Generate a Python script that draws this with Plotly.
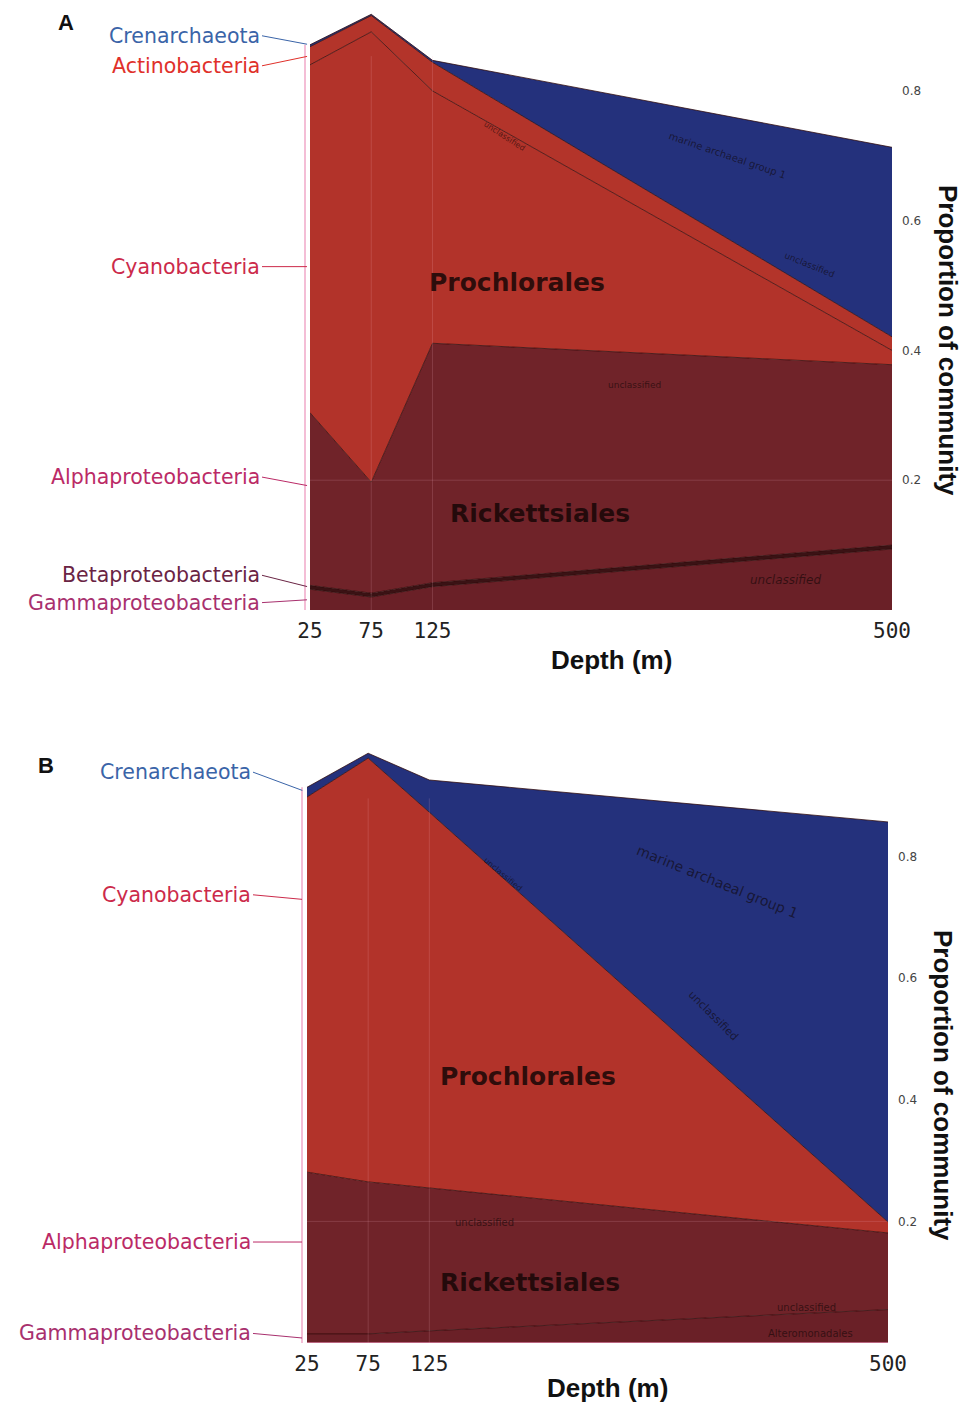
import plotly.graph_objects as go

# ---------------- data ----------------
depths = [25, 75, 125, 500]
depth_tick_text = ["25", "75", "125", "500"]
prop_ticks = [0.2, 0.4, 0.6, 0.8]
prop_tick_text = ["0.2", "0.4", "0.6", "0.8"]

# Panel A (stack order bottom -> top)
taxa_a = ["Gammaproteobacteria", "Betaproteobacteria", "Alphaproteobacteria",
          "Cyanobacteria", "Actinobacteria", "Crenarchaeota"]
gamma_a = [0.032, 0.020, 0.036, 0.094]
beta_a = [0.006, 0.006, 0.006, 0.006]
alpha_a = [0.266, 0.171, 0.369, 0.278]
cyano_a = [0.536, 0.694, 0.389, 0.022]
actino_a = [0.028, 0.025, 0.044, 0.021]
cren_a = [0.003, 0.002, 0.003, 0.292]

# Panel B
taxa_b = ["Gammaproteobacteria", "Alphaproteobacteria", "Cyanobacteria", "Crenarchaeota"]
gamma_b = [0.015, 0.015, 0.020, 0.055]
alpha_b = [0.266, 0.250, 0.235, 0.126]
cyano_b = [0.617, 0.697, 0.618, 0.018]
cren_b = [0.016, 0.008, 0.053, 0.658]

# ---------------- styles ----------------
W, H = 966, 1408
fill = {
    "Gammaproteobacteria": "#6a2027",
    "Betaproteobacteria": "#3a1214",
    "Alphaproteobacteria": "#702329",
    "Cyanobacteria": "#b2332a",
    "Actinobacteria": "#b3342a",
    "Crenarchaeota": "#24317c",
}
label_color = {
    "Crenarchaeota": "#3a64a8",
    "Actinobacteria": "#e0302a",
    "Cyanobacteria": "#cc2a4a",
    "Alphaproteobacteria": "#bb2a66",
    "Betaproteobacteria": "#6a2444",
    "Gammaproteobacteria": "#a8306e",
}
edge = "rgba(45,8,8,0.75)"

fig = go.Figure()

series_a = dict(zip(taxa_a, [gamma_a, beta_a, alpha_a, cyano_a, actino_a, cren_a]))
series_b = dict(zip(taxa_b, [gamma_b, alpha_b, cyano_b, cren_b]))

for name in taxa_a:
    fig.add_trace(go.Scatter(x=depths, y=series_a[name], stackgroup="a", mode="lines",
                             fillcolor=fill[name], line=dict(color=edge, width=1),
                             name=name, xaxis="x", yaxis="y", hoverinfo="skip"))
for name in taxa_b:
    fig.add_trace(go.Scatter(x=depths, y=series_b[name], stackgroup="b", mode="lines",
                             fillcolor=fill[name], line=dict(color=edge, width=1),
                             name=name, xaxis="x2", yaxis="y2", hoverinfo="skip"))

def px_x(p):
    return p / W

def px_y(p):
    return 1 - p / H

# panel geometry (pixels)
A_left, A_right, A_top, A_bot = 310, 892, 0, 610
B_left, B_right, B_top, B_bot = 307, 888, 735, 1343
A_yrange = [0, 0.94]
B_yrange = [0, 1.0]

tickfont_x = dict(family="DejaVu Sans Mono", size=21, color="#222")
tickfont_y = dict(family="DejaVu Sans", size=12, color="#444")

common = dict(showgrid=False, zeroline=False, showline=False, ticks="", automargin=False)
fig.update_layout(
    width=W, height=H, margin=dict(l=0, r=0, t=0, b=0, autoexpand=False),
    paper_bgcolor="white", plot_bgcolor="rgba(0,0,0,0)", showlegend=False,
    xaxis=dict(domain=[px_x(A_left), px_x(A_right)], range=[25, 500], anchor="y",
               tickvals=depths, ticktext=depth_tick_text, tickfont=tickfont_x,
               ticklabelstandoff=6, **common),
    yaxis=dict(domain=[px_y(A_bot), px_y(A_top)], range=A_yrange, anchor="x", side="right",
               tickvals=prop_ticks, ticktext=prop_tick_text, tickfont=tickfont_y,
               ticklabelstandoff=9, **common),
    xaxis2=dict(domain=[px_x(B_left), px_x(B_right)], range=[25, 500], anchor="y2",
                tickvals=depths, ticktext=depth_tick_text, tickfont=tickfont_x,
                ticklabelstandoff=6, **common),
    yaxis2=dict(domain=[px_y(B_bot), px_y(B_top)], range=B_yrange, anchor="x2", side="right",
                tickvals=prop_ticks, ticktext=prop_tick_text, tickfont=tickfont_y,
                ticklabelstandoff=9, **common),
)

shapes = []
annotations = []

def cum_at(series_list, idx):
    out = []
    s = 0
    for vals in series_list:
        lo = s
        s += vals[idx]
        out.append((lo, s))
    return out

bands_a = dict(zip(taxa_a, cum_at([series_a[t] for t in taxa_a], 0)))
bands_b = dict(zip(taxa_b, cum_at([series_b[t] for t in taxa_b], 0)))
top_a = bands_a["Crenarchaeota"][1]
top_b = bands_b["Crenarchaeota"][1]

# pink bracket line on left edge and faint guide lines
for xr, yr, left, top, gy in [("x", "y", 305, top_a, 0.2), ("x2", "y2", 302, top_b, 0.2)]:
    shapes.append(dict(type="line", xref="paper", yref=yr, x0=px_x(left), x1=px_x(left),
                       y0=0, y1=top, line=dict(color="#f0a8c8", width=1.5), layer="above"))
    for d in depths[1:3]:
        shapes.append(dict(type="line", xref=xr, yref=yr, x0=d, x1=d, y0=0, y1=top * 0.98,
                           line=dict(color="rgba(255,190,210,0.16)", width=1), layer="above"))
    shapes.append(dict(type="line", xref=xr, yref=yr, x0=25, x1=500, y0=gy, y1=gy,
                       line=dict(color="rgba(255,190,210,0.16)", width=1), layer="above"))
shapes.append(dict(type="line", xref="x2", yref="y2", x0=25, x1=500, y0=0, y1=0,
                   line=dict(color="rgba(240,150,190,0.8)", width=1.5), layer="above"))

# left labels with leader lines: (taxon, frac in band at 25 m, ax, ay)
lab_font = "DejaVu Sans"
left_a = [("Crenarchaeota", 1.0, -48, -9),
          ("Actinobacteria", 0.5, -48, 10),
          ("Cyanobacteria", 0.42, -48, 0),
          ("Alphaproteobacteria", 0.575, -48, -9),
          ("Betaproteobacteria", 0.5, -48, -12),
          ("Gammaproteobacteria", 0.5, -48, 3)]
for name, frac, ax, ay in left_a:
    lo, hi = bands_a[name]
    annotations.append(dict(x=25, y=lo + frac * (hi - lo), xref="x", yref="y",
                            text=name, showarrow=True, arrowhead=0, arrowwidth=1,
                            arrowcolor=label_color[name], ax=ax, ay=ay, xanchor="right",
                            font=dict(family=lab_font, size=20.5, color=label_color[name]),
                            standoff=3))
left_b = [("Crenarchaeota", 0.5, -54, -20),
          ("Cyanobacteria", 0.726, -54, -5),
          ("Alphaproteobacteria", 0.568, -54, 0),
          ("Gammaproteobacteria", 0.5, -54, -5)]
for name, frac, ax, ay in left_b:
    lo, hi = bands_b[name]
    annotations.append(dict(x=25, y=lo + frac * (hi - lo), xref="x2", yref="y2",
                            text=name, showarrow=True, arrowhead=0, arrowwidth=1,
                            arrowcolor=label_color[name], ax=ax, ay=ay, xanchor="right",
                            font=dict(family=lab_font, size=20.5, color=label_color[name]),
                            standoff=5))

# big in-area labels
big = dict(family="DejaVu Sans", size=25, color="rgba(22,6,6,0.85)", weight="bold")
for txt, x, y, xr, yr in [("Prochlorales", 194, 0.504, "x", "y"),
                          ("Rickettsiales", 213, 0.149, "x", "y"),
                          ("Prochlorales", 206, 0.439, "x2", "y2"),
                          ("Rickettsiales", 207, 0.099, "x2", "y2")]:
    annotations.append(dict(x=x, y=y, xref=xr, yref=yr, text=txt, showarrow=False, font=big))

# small in-area labels
small_col = "rgba(15,5,5,0.6)"
for txt, x, y, xr, yr, ang, sz in [
        ("marine archaeal group 1", 366, 0.701, "x", "y", 19, 10),
        ("unclassified", 433, 0.532, "x", "y", 22, 9),
        ("unclassified", 184, 0.73, "x", "y", 33, 8),
        ("unclassified", 290, 0.347, "x", "y", 0, 9),
        ("<i>unclassified</i>", 413, 0.046, "x", "y", 0, 12),
        ("marine archaeal group 1", 361, 0.758, "x2", "y2", 22, 14),
        ("unclassified", 357, 0.539, "x2", "y2", 45, 11),
        ("unclassified", 185, 0.77, "x2", "y2", 40, 8),
        ("unclassified", 170, 0.199, "x2", "y2", 0, 10),
        ("unclassified", 433, 0.058, "x2", "y2", 0, 10),
        ("Alteromonadales", 437, 0.016, "x2", "y2", 0, 10)]:
    annotations.append(dict(x=x, y=y, xref=xr, yref=yr, text=txt, showarrow=False,
                            textangle=ang, font=dict(family="DejaVu Sans", size=sz, color=small_col)))

# axis titles and panel letters
title_font = dict(family="Liberation Sans", size=26, color="#111")
for txt, x, y, ang in [("<b>Depth (m)</b>", 611, 660, 0),
                       ("<b>Depth (m)</b>", 607, 1388, 0),
                       ("<b>Proportion of community</b>", 948, 340, 90),
                       ("<b>Proportion of community</b>", 943, 1085, 90)]:
    annotations.append(dict(x=px_x(x), y=px_y(y), xref="paper", yref="paper", text=txt,
                            showarrow=False, textangle=ang, font=title_font,
                            xanchor="center", yanchor="middle"))
for txt, x, y in [("<b>A</b>", 66, 22), ("<b>B</b>", 46, 765)]:
    annotations.append(dict(x=px_x(x), y=px_y(y), xref="paper", yref="paper", text=txt,
                            showarrow=False, font=dict(family="Liberation Sans", size=22, color="#111"),
                            xanchor="center", yanchor="middle"))

fig.update_layout(shapes=shapes, annotations=annotations)
fig.write_html("out.html")
